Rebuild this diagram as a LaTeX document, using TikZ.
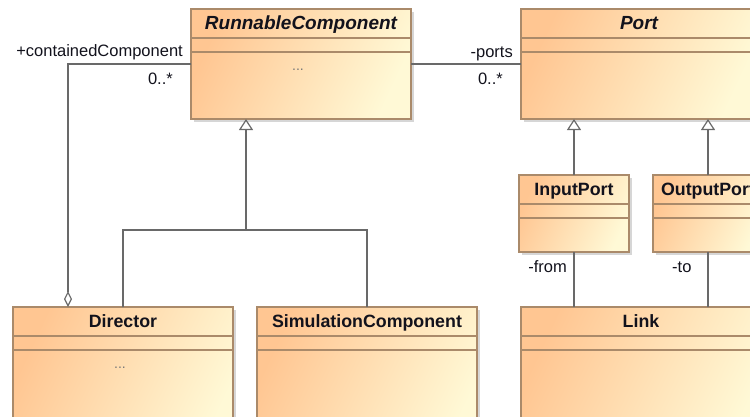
\documentclass[tikz,border=0pt]{standalone}
\usepackage{fontspec}
\setmainfont{Liberation Sans}
\usetikzlibrary{calc,arrows.meta,shadows}

\definecolor{boxA}{RGB}{255,198,146}
\definecolor{boxB}{RGB}{255,249,214}
\definecolor{boxline}{RGB}{170,138,106}
\definecolor{wire}{RGB}{105,105,105}
\definecolor{ink}{RGB}{18,18,28}
\definecolor{dotgray}{RGB}{120,120,120}

\tikzset{
  umlbox/.style={draw=boxline, line width=1.2pt, top color=boxA, bottom color=boxB,
    shading angle=65, inner sep=0pt, outer sep=0pt, anchor=north west,
    drop shadow={shadow xshift=3pt, shadow yshift=-3pt, fill=black!40, opacity=0.4}},
  umlsep/.style={draw=boxline, line width=1.2pt},
  umltitle/.style={anchor=base, inner sep=0pt, text=ink,
    font=\fontsize{17.8}{20}\selectfont\bfseries},
  umlabstract/.style={umltitle, font=\fontsize{19}{21}\selectfont\bfseries\itshape},
  umldots/.style={anchor=base, inner sep=0pt, text=dotgray, font=\fontsize{14}{16}\selectfont},
  umllabel/.style={inner sep=0pt, text=ink, font=\fontsize{16.5}{20}\selectfont},
  wireline/.style={draw=wire, line width=1.2pt},
  inherit/.style={wireline, -{Triangle[open, fill=white, length=11pt, width=14pt]}},
  aggregate/.style={wireline, -{Diamond[fill=white, length=16pt, width=8pt]}},
}

% class box: name, x, y, width, height
\newcommand\umlclassbox[5]{%
  \node[umlbox, minimum width=#4pt, minimum height=#5pt] (#1) at (#2,#3) {};
  \draw[umlsep] ($(#1.north west)+(0,29)$) -- ($(#1.north east)+(0,29)$);
  \draw[umlsep] ($(#1.north west)+(0,43)$) -- ($(#1.north east)+(0,43)$);
}

\begin{document}
\begin{tikzpicture}[x=1pt, y=-1pt]
\useasboundingbox (0,0) rectangle (750,416);
\clip (0,0) rectangle (750,416);

% classes
\umlclassbox{rc}{191}{9}{220}{110}
\node[umlabstract] (rc-t) at ($(rc.north)+(0,20)$) {RunnableComponent};
\node[umldots] (rc-b) at ($(rc.north)+(-3,61)$) {...};

\umlclassbox{port}{521}{9}{236}{110}
\node[umlabstract] (port-t) at ($(port.north)+(0,20)$) {Port};

\umlclassbox{inp}{519}{175}{110}{77}
\node[umltitle] (inp-t) at ($(inp.north)+(0,20)$) {InputPort};

\umlclassbox{outp}{653}{175}{110}{77}
\node[umltitle] (outp-t) at ($(outp.north)+(0,20)$) {OutputPort};

\umlclassbox{dir}{13}{307}{220}{150}
\node[umltitle] (dir-t) at ($(dir.north)+(0,20)$) {Director};
\node[umldots] (dir-b) at ($(dir.north)+(-3,61)$) {...};

\umlclassbox{sim}{257}{307}{220}{150}
\node[umltitle] (sim-t) at ($(sim.north)+(0,20)$) {SimulationComponent};

\umlclassbox{link}{521}{307}{240}{150}
\node[umltitle] (link-t) at ($(link.north)+(0,20)$) {Link};

% association RunnableComponent -- Port
\draw[wireline] (rc.east) -- (port.west);
\node[umllabel, anchor=base east] (lp) at ($(port.north west)+(-8,48)$) {-ports};
\node[umllabel, anchor=base east] (lpm) at ($(port.north west)+(-18,75)$) {0..*};

% aggregation Director <>-- RunnableComponent
\coordinate (aggend) at ($(dir.north west)+(55,0)$);
\draw[aggregate] (rc.west) -| (aggend);
\node[umllabel, anchor=base east] (lc) at ($(rc.north west)+(-8,47)$) {+containedComponent};
\node[umllabel, anchor=base east] (lcm) at ($(rc.north west)+(-18,75)$) {0..*};

% generalization to RunnableComponent
\coordinate (rcbase) at ($(rc.south west)+(55,0)$);
\coordinate (genjoin) at (rcbase |- 0,230);
\draw[wireline] (sim.north) |- (genjoin);
\draw[inherit] (dir.north) |- (genjoin) -- (rcbase);

% generalization to Port
\draw[inherit] (inp.north) -- (inp.north |- port.south);
\draw[inherit] (outp.north) -- (outp.north |- port.south);

% Link ends
\draw[wireline] (inp.south) -- (inp.south |- link.north);
\draw[wireline] (outp.south) -- (outp.south |- link.north);
\node[umllabel, anchor=base east] (lf) at ($(inp.south)+(-7,20)$) {-from};
\node[umllabel, anchor=base west] (lt) at ($(outp.south)+(-36,20)$) {-to};
\end{tikzpicture}
\end{document}
